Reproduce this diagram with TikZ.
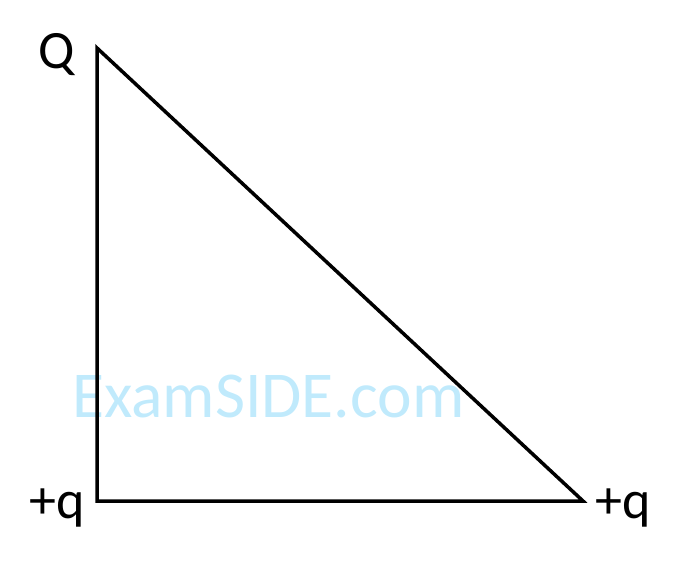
\documentclass[tikz,border=0pt]{standalone}
\usepackage{fontspec}
\setmainfont{Carlito}
\definecolor{wmblue}{RGB}{192,234,252}
\tikzset{
  edge/.style={line width=3.5pt, line join=miter},
  lbl/.style={font=\fontsize{54}{60}\selectfont, inner sep=0pt, anchor=base},
  wm/.style={font=\fontsize{65.5}{72}\selectfont, text=wmblue, inner sep=0pt, anchor=base west}
}
\begin{document}
\begin{tikzpicture}[x=1pt,y=-1pt]
\useasboundingbox (0,0) rectangle (682,565);
\node[wm] (w) at (72,417) {ExamSIDE.com};
\coordinate (A) at (97,48);
\coordinate (B) at (97,501);
\coordinate (C) at (583,501);
\draw[edge] (A) -- (B) -- (C) -- cycle;
\node[lbl] (lQ) at (57,68) {Q};
\node[lbl] (lB) at (57,518) {+q};
\node[lbl] (lC) at (623,518) {+q};
\end{tikzpicture}
\end{document}
